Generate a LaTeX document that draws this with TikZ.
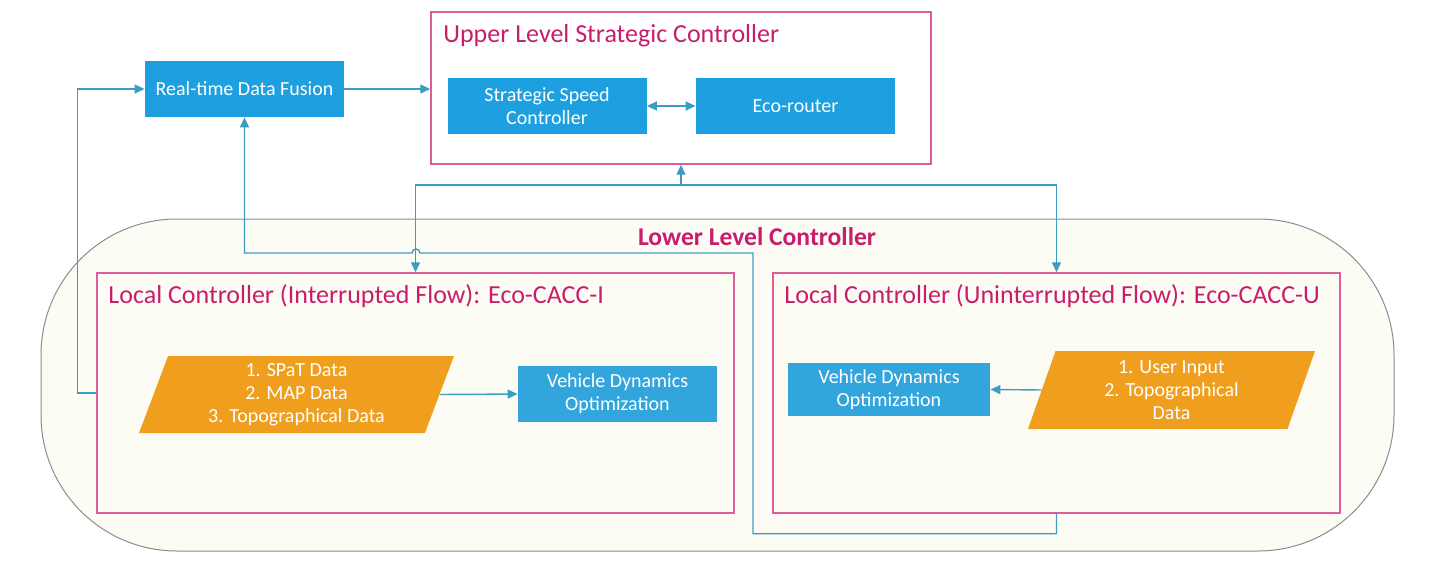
\documentclass[tikz,border=0pt]{standalone}
\usepackage{fontspec}
\setmainfont{Carlito}
\usetikzlibrary{shapes.geometric,arrows.meta}

\definecolor{boxblue}{HTML}{1E9FE0}
\definecolor{optblue}{HTML}{31A5DC}
\definecolor{dataorange}{HTML}{F09E1E}
\definecolor{titlemag}{HTML}{C81D6C}
\definecolor{framepink}{HTML}{DC5E98}
\definecolor{connblue}{HTML}{3C9DC2}
\definecolor{regionfill}{HTML}{FDFCF4}

\tikzset{
  blok/.style={fill=boxblue, text=white, align=center, inner sep=1pt,
    minimum width=99.5pt, minimum height=28pt,
    font=\fontsize{10}{11.5}\selectfont},
  datablok/.style={trapezium, trapezium left angle=65, trapezium right angle=115,
    trapezium stretches body, fill=dataorange, text=white, align=center,
    inner sep=0pt, font=\fontsize{10}{11.5}\selectfont},
  ramka/.style={draw=framepink, line width=0.75pt},
  zagolovok/.style={text=titlemag, anchor=base west, inner sep=0pt,
    font=\fontsize{13}{15}\selectfont},
  conn/.style={draw=connblue, line width=0.7pt,
    arrows={-Triangle[length=5pt,width=4.5pt,fill=connblue]}},
}

\begin{document}
\begin{tikzpicture}[x=0.5pt,y=-0.5pt]
\useasboundingbox (0,0) rectangle (1430,567);

%нижний уровень
\node[draw=black!45, line width=0.5pt, fill=regionfill, rounded corners=68pt,
  minimum width=676.5pt, minimum height=166pt] (llc) at (717.5,385) {};
\node[text=titlemag, font=\bfseries\fontsize{12.8}{14}\selectfont] (llctitle) at (757,237) {Lower Level Controller};

%верхний уровень
\node[ramka, minimum width=250pt, minimum height=76pt] (ulsc) at (681,88) {};
\node[zagolovok] (ulsctitle) at (443,43) {Upper Level Strategic Controller};
\node[blok] (ssc) at (547,106) {Strategic Speed\\Controller};
\node[blok] (ecor) at (795.5,106) {Eco-router};

\node[blok] (rtdf) at (244.5,89) {Real-time Data Fusion};

%локальные контроллеры
\node[ramka, fill=regionfill, minimum width=318.5pt, minimum height=120pt] (lcI) at (415.5,393) {};
\node[zagolovok] (lcItitle) at (108,303) {Local Controller (Interrupted Flow): Eco-CACC-I};
\node[ramka, fill=regionfill, minimum width=283.5pt, minimum height=120pt] (lcU) at (1056.5,393) {};
\node[zagolovok] (lcUtitle) at (784,303) {Local Controller (Uninterrupted Flow): Eco-CACC-U};

\node[datablok, minimum width=157.5pt, minimum height=38.5pt] (spat) at (296.5,394.5)
  {1. SPaT Data\\2. MAP Data\\3. Topographical Data};
\node[blok, fill=optblue] (vdoI) at (617.5,394) {Vehicle Dynamics\\Optimization};

\node[datablok, minimum width=143.5pt, minimum height=39pt] (user) at (1171.5,390)
  {1. User Input\\2. Topographical\\Data};
\node[blok, fill=optblue, minimum width=101pt, minimum height=26.5pt] (vdoU) at (889,389.5) {Vehicle Dynamics\\Optimization};

%связи
\draw[conn] (rtdf.east) -- (rtdf.east -| ulsc.west);
\draw[conn, arrows={Triangle[length=5pt,width=4.5pt,fill=connblue]-Triangle[length=5pt,width=4.5pt,fill=connblue]}] (ssc) -- (ecor);
\draw[conn] (spat.east) -- (vdoI.west);
\draw[conn] (user.west) -- (vdoU.east);

\coordinate (bus) at (681,185);
\draw[conn] (bus) -- (ulsc.south);
\draw[conn] (bus) -| (lcI.north);
\draw[conn] (bus) -| (lcU.north);

\draw[conn] (lcI.west) -- ++(-19,0) |- (rtdf.west);

\draw[conn] (lcU.south) -- ++(0,20) -| (753,253) -- (420,253)
  arc[start angle=0, end angle=180, radius=2pt] -| (rtdf.south);

\end{tikzpicture}
\end{document}
